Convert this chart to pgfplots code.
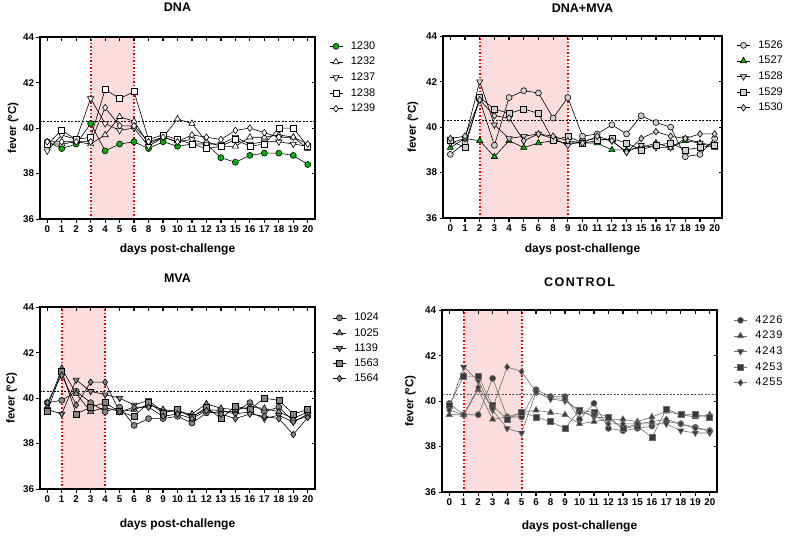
\documentclass[border=0pt]{standalone}
\usepackage{fontspec}
\setmainfont{Liberation Sans}
\usepackage{pgfplots}
\usepackage{pgfplotstable}
\pgfplotsset{compat=1.18}

\definecolor{band}{HTML}{FCDDDD}
\definecolor{grn}{HTML}{00B400}
\definecolor{ltg}{HTML}{D0D0D0}
\definecolor{midg}{HTML}{858585}
\definecolor{dkg}{HTML}{3A3A3A}
\definecolor{lineg}{HTML}{6E6E6E}
\definecolor{dotred}{HTML}{F00000}

% columns: i = category index, then one column per animal
\pgfplotstableread{
i  a     b     c     d     e
0  39.4  39.3  39.0  39.3  39.4
1  39.1  39.3  39.7  39.9  39.4
2  39.3  39.4  39.5  39.5  39.4
3  40.2  39.3  41.3  39.6  39.4
4  39.0  39.7  40.2  41.7  40.9
5  39.3  40.5  39.9  41.3  40.1
6  39.4  40.3  40.0  41.6  40.1
7  39.1  39.3  39.2  39.5  39.4
8  39.4  39.6  39.6  39.7  39.6
9  39.2  40.4  39.4  39.5  39.4
10 39.3  40.2  39.5  39.3  39.7
11 39.3  39.4  39.3  39.1  39.6
12 38.7  39.2  39.3  39.2  39.5
13 38.5  39.2  39.6  39.5  39.9
14 38.8  39.6  39.3  39.2  40.0
15 38.9  39.6  39.4  39.3  39.8
16 38.9  39.7  39.4  40.0  39.6
17 38.8  39.6  39.3  40.0  39.6
18 38.4  39.1  39.2  39.2  39.3
}\dna

\pgfplotstableread{
i  a     b     c     d     e
0  38.8  39.1  39.3  39.4  39.5
1  39.3  39.5  39.5  39.1  39.6
2  41.2  39.4  42.0  41.3  41.2
3  39.2  38.7  40.1  40.8  40.5
4  41.3  39.4  39.5  40.6  40.4
5  41.6  39.1  39.6  40.8  39.4
6  41.5  39.3  39.7  40.6  39.7
7  40.4  39.4  39.5  39.4  39.6
8  41.3  39.3  39.2  39.6  39.4
9  39.6  39.3  39.4  39.3  39.3
10 39.7  39.3  39.5  39.4  39.6
11 40.1  39.0  39.4  39.5  39.4
12 39.7  39.0  38.9  39.3  38.9
13 40.5  39.1  39.2  39.0  39.5
14 40.2  39.3  39.1  39.2  39.8
15 40.0  39.1  39.1  39.3  39.6
16 38.7  39.4  39.5  39.0  39.5
17 38.8  39.3  39.3  39.1  39.7
18 39.5  39.1  39.2  39.2  39.7
}\dnamva

\pgfplotstableread{
i  a     b     c     d     e
0  39.8  39.6  39.5  39.4  39.8
1  39.9  41.3  39.3  41.2  41.0
2  40.3  40.2  40.8  39.3  39.7
3  39.8  39.4  40.3  39.6  40.7
4  39.4  39.6  40.15 39.8  40.7
5  39.6  39.4  40.0  39.4  39.4
6  38.8  39.5  39.7  39.2  39.6
7  39.1  39.7  39.9  39.8  39.6
8  39.1  39.5  39.4  39.35 39.2
9  39.2  39.4  39.45 39.5  39.3
10 38.9  39.3  39.2  39.15 39.1
11 39.35 39.75 39.5  39.6  39.45
12 39.4  39.55 39.45 39.1  39.3
13 39.4  39.5  39.3  39.65 39.1
14 39.8  39.6  39.4  39.5  39.3
15 39.4  39.55 39.1  40.0  39.2
16 39.6  39.4  39.25 39.9  39.1
17 39.0  39.1  38.95 39.3  38.4
18 39.2  39.4  39.3  39.5  39.15
}\mva

\pgfplotstableread{
i  a     b     c     d     e
0  39.9  39.4  39.7  39.8  39.6
1  39.4  39.4  41.5  41.1  39.4
2  39.4  40.5  40.9  41.1  40.6
3  41.0  39.2  39.6  39.8  39.7
4  39.3  39.3  38.8  39.2  41.5
5  39.3  39.5  38.6  39.5  41.3
6  40.5  39.6  40.4  39.3  40.4
7  40.2  39.5  40.1  39.1  40.1
8  40.2  39.4  40.0  38.8  40.1
9  39.2  39.0  39.6  39.6  39.5
10 39.9  39.1  39.3  39.5  39.4
11 38.8  39.2  39.25 39.3  39.0
12 38.7  39.2  38.8  38.8  39.0
13 38.8  39.1  39.0  38.9  39.0
14 38.9  39.3  39.0  38.4  39.1
15 39.1  39.55 39.0  39.65 39.2
16 39.0  39.4  38.7  39.4  39.0
17 38.85 39.3  38.6  39.4  38.8
18 38.7  39.4  38.6  39.3  38.7
}\control

\pgfplotsset{
  panel/.style={
    scale only axis, width=275pt, height=182pt,
    xmin=-0.5, xmax=18.5, ymin=36, ymax=44,
    xtick={0,...,18},
    xticklabels={0,1,2,3,4,5,6,8,9,10,11,12,13,15,16,17,18,19,20},
    ytick={36,38,40,42,44},
    tick align=outside, xtick pos=bottom, ytick pos=left,
    major tick length=3.5pt,
    axis line style={line width=1.3pt},
    tick style={black, line width=1.2pt},
    ticklabel style={font=\bfseries\fontsize{9.8}{11}\selectfont},
    yticklabel style={xshift=1pt},
    /pgf/number format/assume math mode=true,
    xlabel={days post-challenge},
    ylabel={fever (ºC)},
    xlabel style={font=\bfseries\fontsize{12}{14}\selectfont, anchor=center},
    ylabel style={font=\bfseries\fontsize{11.5}{14}\selectfont, anchor=center},
    title style={font=\bfseries\fontsize{12.5}{14}\selectfont, anchor=center},
    legend cell align=left,
    legend style={draw=none, fill=none, anchor=north west,
      font=\fontsize{11}{12}\selectfont, inner sep=0pt, row sep=3.6pt,
      nodes={inner sep=1pt, text height=8pt, text depth=2pt},
      /tikz/every odd column/.append style={column sep=7pt}},
    legend image code/.code={\draw[mark repeat=2,mark phase=2]
      plot coordinates {(0pt,0pt)(6.5pt,0pt)(13pt,0pt)};},
  },
  mirror/.style={
    scale only axis, width=275pt, height=182pt,
    xmin=-0.5, xmax=18.5, ymin=36, ymax=44,
    xtick={0,...,18}, ytick={38,40,42},
    xtick pos=top, ytick pos=right, tick align=inside,
    xticklabels={}, yticklabels={},
    major tick length=3.5pt,
    axis line style={line width=1.3pt},
    tick style={black, line width=1.2pt},
  },
  ser/.style={line width=0.6pt, mark options={solid, draw=black, line width=0.6pt}},
  band/.style={draw=none, fill=band, forget plot},
  thr/.style={black, line width=0.7pt, dash pattern=on 2pt off 1.5pt, forget plot},
  rdot/.style={dotred, line width=2.1pt, dash pattern=on 1.4pt off 2.1pt, forget plot},
}

\begin{document}
\begin{tikzpicture}
\path (0pt,0pt) rectangle (787pt,-529pt);

% ---------- DNA ----------
\begin{axis}[panel, at={(40pt,-31pt)}, anchor=north west,
  title={DNA}, title style={at={(axis description cs:0.5,1.129)}},
  xlabel style={at={(axis description cs:0.5,-0.165)}},
  ylabel style={at={(axis description cs:-0.098,0.5)}},
  legend style={at={(axis description cs:1,1)}, xshift=14pt, yshift=-3pt}]
\addplot[band] coordinates {(3,36) (6,36) (6,44) (3,44)} -- cycle;
\addplot[thr] coordinates {(-0.5,40.3) (18.5,40.3)};
\addplot[rdot] coordinates {(3,36) (3,44)};
\addplot[rdot] coordinates {(6,36) (6,44)};
\addplot[ser, black, mark=*, mark size=3pt, mark options={fill=grn}] table[x=i,y=a]{\dna};
\addplot[ser, black, mark=triangle*, mark size=3.6pt, mark options={fill=white}] table[x=i,y=b]{\dna};
\addplot[ser, black, mark=triangle*, mark size=3.6pt, mark options={fill=white, rotate=180}] table[x=i,y=c]{\dna};
\addplot[ser, black, mark=square*, mark size=3pt, mark options={fill=white}] table[x=i,y=d]{\dna};
\addplot[ser, black, mark=diamond*, mark size=3.3pt, mark options={fill=white}] table[x=i,y=e]{\dna};
\legend{1230,1232,1237,1238,1239}
\end{axis}
\begin{axis}[mirror, at={(40pt,-31pt)}, anchor=north west]
\end{axis}

% ---------- DNA+MVA ----------
\begin{axis}[panel, width=279pt, at={(443pt,-30pt)}, anchor=north west,
  title={DNA+MVA}, title style={at={(axis description cs:0.5,1.118)}},
  xlabel style={at={(axis description cs:0.5,-0.170)}},
  ylabel style={at={(axis description cs:-0.1075,0.5)}},
  legend style={at={(axis description cs:1,1)}, xshift=14.5pt, yshift=-3pt}]
\addplot[band] coordinates {(2,36) (8,36) (8,44) (2,44)} -- cycle;
\addplot[thr] coordinates {(-0.5,40.3) (18.5,40.3)};
\addplot[rdot] coordinates {(2,36) (2,44)};
\addplot[rdot] coordinates {(8,36) (8,44)};
\addplot[ser, black, mark=*, mark size=3pt, mark options={fill=ltg}] table[x=i,y=a]{\dnamva};
\addplot[ser, black, mark=triangle*, mark size=3.6pt, mark options={fill=grn}] table[x=i,y=b]{\dnamva};
\addplot[ser, black, mark=triangle*, mark size=3.6pt, mark options={fill=ltg, rotate=180}] table[x=i,y=c]{\dnamva};
\addplot[ser, black, mark=square*, mark size=3pt, mark options={fill=ltg}] table[x=i,y=d]{\dnamva};
\addplot[ser, black, mark=diamond*, mark size=3.3pt, mark options={fill=ltg}] table[x=i,y=e]{\dnamva};
\legend{1526,1527,1528,1529,1530}
\end{axis}
\begin{axis}[mirror, width=279pt, at={(443pt,-30pt)}, anchor=north west]
\end{axis}

% ---------- MVA ----------
\begin{axis}[panel, at={(40pt,-301pt)}, anchor=north west,
  title={MVA}, title style={at={(axis description cs:0.5,1.126)}},
  xlabel style={at={(axis description cs:0.5,-0.192)}},
  ylabel style={at={(axis description cs:-0.103,0.5)}},
  legend style={at={(axis description cs:1,1)}, xshift=17.5pt, yshift=-4.5pt, row sep=3.2pt}]
\addplot[band] coordinates {(1,36) (4,36) (4,44) (1,44)} -- cycle;
\addplot[thr] coordinates {(-0.5,40.3) (18.5,40.3)};
\addplot[rdot] coordinates {(1,36) (1,44)};
\addplot[rdot] coordinates {(4,36) (4,44)};
\addplot[ser, black, mark=*, mark size=3pt, mark options={fill=midg}] table[x=i,y=a]{\mva};
\addplot[ser, black, mark=triangle*, mark size=3.6pt, mark options={fill=midg}] table[x=i,y=b]{\mva};
\addplot[ser, black, mark=triangle*, mark size=3.6pt, mark options={fill=midg, rotate=180}] table[x=i,y=c]{\mva};
\addplot[ser, black, mark=square*, mark size=3pt, mark options={fill=midg}] table[x=i,y=d]{\mva};
\addplot[ser, black, mark=diamond*, mark size=3.3pt, mark options={fill=midg}] table[x=i,y=e]{\mva};
\legend{1024,1025,1139,1563,1564}
\end{axis}
\begin{axis}[mirror, at={(40pt,-301pt)}, anchor=north west]
\end{axis}

% ---------- CONTROL ----------
\begin{axis}[panel, at={(442pt,-304pt)}, anchor=north west,
  title={\addfontfeatures{LetterSpace=12}CONTROL}, title style={at={(axis description cs:0.5,1.120)}},
  xlabel style={at={(axis description cs:0.5,-0.186)}},
  ylabel style={at={(axis description cs:-0.115,0.5)}},
  legend style={at={(axis description cs:1,1)}, xshift=16.5pt, yshift=-4pt,
    font=\fontsize{11}{12}\selectfont\addfontfeatures{LetterSpace=8}}]
\addplot[band] coordinates {(1,36) (5,36) (5,44) (1,44)} -- cycle;
\addplot[thr, black!70] coordinates {(-0.5,40.3) (18.5,40.3)};
\addplot[rdot] coordinates {(1,36) (1,44)};
\addplot[rdot] coordinates {(5,36) (5,44)};
\addplot[ser, lineg, mark=*, mark size=3pt, mark options={fill=dkg}] table[x=i,y=a]{\control};
\addplot[ser, lineg, mark=triangle*, mark size=3.6pt, mark options={fill=dkg}] table[x=i,y=b]{\control};
\addplot[ser, lineg, mark=triangle*, mark size=3.6pt, mark options={fill=dkg, rotate=180}] table[x=i,y=c]{\control};
\addplot[ser, lineg, mark=square*, mark size=3pt, mark options={fill=dkg}] table[x=i,y=d]{\control};
\addplot[ser, lineg, mark=diamond*, mark size=3.3pt, mark options={fill=dkg}] table[x=i,y=e]{\control};
\legend{4226,4239,4243,4253,4255}
\end{axis}
\begin{axis}[mirror, at={(442pt,-304pt)}, anchor=north west]
\end{axis}

\end{tikzpicture}
\end{document}
